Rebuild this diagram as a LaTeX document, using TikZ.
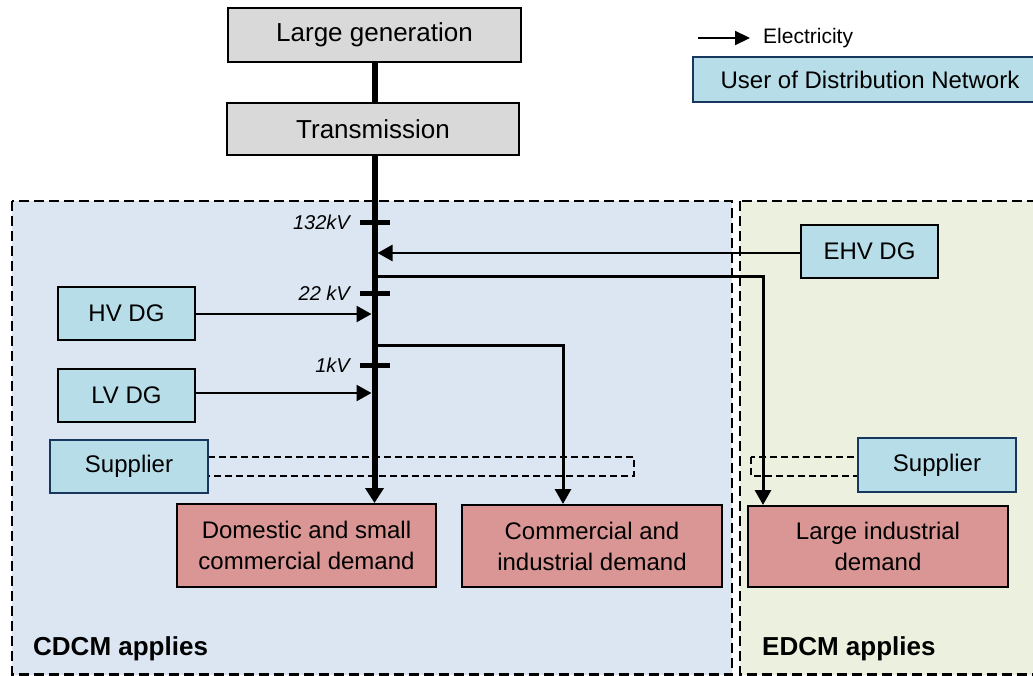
\documentclass[tikz,border=0pt]{standalone}
\usepackage{fontspec}
\setmainfont{Liberation Sans}
\usetikzlibrary{arrows.meta}

\definecolor{greyfill}{HTML}{D9D9D9}
\definecolor{userfill}{HTML}{B7DEE8}
\definecolor{userline}{HTML}{17375E}
\definecolor{demandfill}{HTML}{D99694}
\definecolor{cdcmfill}{HTML}{DCE6F2}
\definecolor{edcmfill}{HTML}{EBF1DE}

\tikzset{
  basebox/.style={draw=black, line width=2pt, inner sep=0pt, align=center,
    font=\fontsize{24}{31}\selectfont},
  greybox/.style={basebox, fill=greyfill, font=\fontsize{26}{31}\selectfont},
  userbox/.style={basebox, fill=userfill},
  supplierbox/.style={basebox, fill=userfill, draw=userline},
  demandbox/.style={basebox, fill=demandfill},
  region/.style={draw=black, line width=2.4pt, dash pattern=on 10pt off 5pt},
  regionlabel/.style={anchor=base west, inner sep=0pt,
    font=\fontsize{26}{30}\selectfont\bfseries},
  supplyarea/.style={draw=black, line width=1.7pt, dash pattern=on 7pt off 4pt},
  bus/.style={line width=6pt},
  tick/.style={line width=5pt},
  voltage/.style={anchor=east, inner sep=0pt, font=\fontsize{20}{24}\selectfont\itshape},
  flow/.style={line width=2.4pt, -{Triangle[length=15pt,width=16pt]}},
  bigflow/.style={line width=6pt, -{Triangle[length=15pt,width=18pt]}},
  feeder/.style={line width=3pt, -{Triangle[length=15pt,width=16pt]}},
}

\begin{document}
\begin{tikzpicture}[x=1pt,y=-1pt]
\useasboundingbox (0,0) rectangle (1033,675);

% charging methodology areas
\draw[region, fill=cdcmfill] (12,201) rectangle (732,674.5);
\draw[region, fill=edcmfill] (740,201) rectangle (1045,674.5);
\node[regionlabel] (cdcm) at (33,655) {CDCM applies};
\node[regionlabel] (edcm) at (762,655) {EDCM applies};

% supplier areas
\draw[supplyarea] (200,457) rectangle (634,476);
\draw[supplyarea] (751,457) rectangle (866,476);

% boxes
\node[greybox, minimum width=293pt, minimum height=54pt] (gen) at (374.5,35) {Large generation};
\node[greybox, minimum width=292pt, minimum height=52pt] (trans) at (373,129) {Transmission};

\node[userbox, minimum width=137pt, minimum height=53pt] (ehv) at (869.5,251.5) {EHV DG};
\node[userbox, minimum width=137pt, minimum height=53pt] (hv) at (126.5,313.5) {HV DG};
\node[userbox, minimum width=137pt, minimum height=53pt] (lv) at (126.5,395.5) {LV DG};
\node[supplierbox, minimum width=158pt, minimum height=53pt] (supl) at (129,466.5) {Supplier};
\node[supplierbox, minimum width=158pt, minimum height=54pt] (supr) at (937,465) {Supplier};

\node[demandbox, minimum width=259pt, minimum height=83pt] (dom) at (306.5,545.5)
  {Domestic and small\\commercial demand};
\node[demandbox, minimum width=260pt, minimum height=82pt] (com) at (592,546)
  {Commercial and\\industrial demand};
\node[demandbox, minimum width=260pt, minimum height=81pt] (ind) at (878,546.5)
  {Large industrial\\demand};

% legend
\node[supplierbox, minimum width=354pt, minimum height=45pt, anchor=west] (leg) at (692,79.5)
  {User of Distribution Network};
\coordinate (lga) at (698,38);
\coordinate (lgb) at (750,38);
\draw[line width=2.2pt, -{Triangle[length=15pt,width=14pt]}] (lga) -- (lgb);
\node[anchor=west, inner sep=0pt, font=\fontsize{21}{24}\selectfont] (lgt) at (763,38) {Electricity};

% busbar taps
\coordinate (bus) at (374.5,0);
\coordinate (tapehv) at (377.5,253);
\coordinate (tapind) at (374.5,276);
\coordinate (taphv) at (371.5,314);
\coordinate (tapcom) at (374.5,345);
\coordinate (taplv) at (371.5,393);
\coordinate (indturn) at (763,276);
\coordinate (comturn) at (563,345);

% main busbar
\draw[bus] (bus |- gen.south) -- (bus |- trans.north);
\draw[bigflow] (bus |- trans.south) -- (bus |- dom.north);

% voltage levels
\foreach \y/\lab/\nm in {222/132kV/va, 293/22 kV/vb, 365/1kV/vc} {
  \draw[tick] (360,\y) -- (390,\y);
  \node[voltage] (\nm) at (350,\y) {\lab};
}

% generation feeding in
\draw[flow] (ehv.west |- tapehv) -- (tapehv);
\draw[flow] (hv.east |- taphv) -- (taphv);
\draw[flow] (lv.east |- taplv) -- (taplv);

% demand fed from the busbar
\draw[feeder] (tapind) -- (indturn) -- (indturn |- ind.north);
\draw[feeder] (tapcom) -- (comturn) -- (comturn |- com.north);
\end{tikzpicture}
\end{document}
